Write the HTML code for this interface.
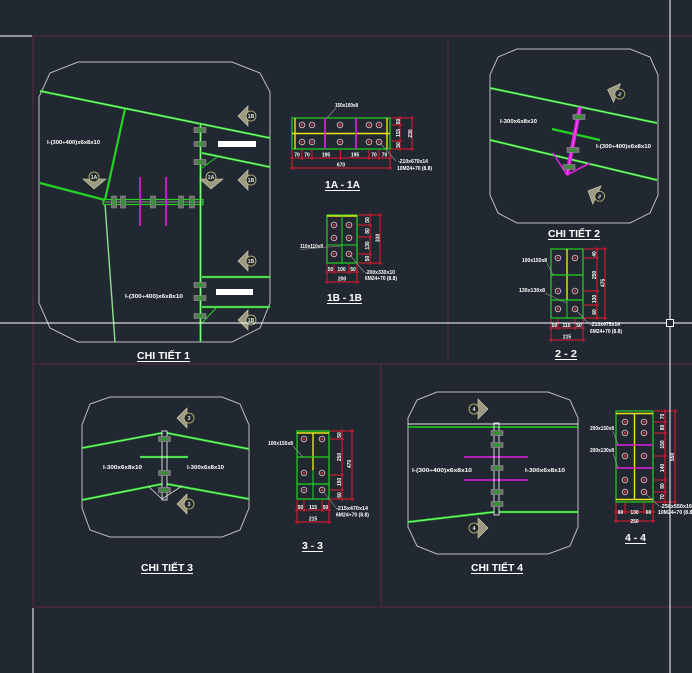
<!DOCTYPE html>
<html><head><meta charset="utf-8"><style>
html,body{margin:0;padding:0;background:#222831;}
svg{display:block;}
text{font-family:"Liberation Sans","Noto Sans CJK SC",sans-serif;}
.o{fill:none;stroke:#bdbdbd;stroke-width:1;}
.g{stroke:#22d322;stroke-width:2.2;fill:none;}
.gl{stroke:#d8ffd8;stroke-width:0.6;fill:none;}
.r{stroke:#e8182c;stroke-width:1;fill:none;}
.y{stroke:#e6e61a;stroke-width:1.4;fill:none;}
.m{stroke:#e020e0;stroke-width:1.6;fill:none;}
.f{stroke:#5c2a36;stroke-width:1;fill:none;}
.w{stroke:#ffffff;stroke-width:1;fill:none;}
.ld{stroke:#9a9a9a;stroke-width:0.6;fill:none;}
.t{fill:#fff;font-size:5.5px;font-weight:bold;}
.d{fill:#fff;font-size:5px;font-weight:bold;text-anchor:middle;}
.ti{fill:#fff;font-size:10px;font-weight:bold;}
.mk{fill:#222831;stroke:#c8c47a;stroke-width:0.8;}
.mt{fill:#9c9a84;stroke:#d8d4b0;stroke-width:0.6;}
.mx{fill:#e8e8d8;font-size:5px;font-weight:bold;text-anchor:middle;}
.bh{fill:#6a6f68;stroke:#a0a0a0;stroke-width:0.5;}
.bn{fill:#2c9a2c;}
.sb{fill:none;stroke:#e0b8c0;stroke-width:0.9;}
.sd{fill:#e03040;}
</style></head><body>
<svg width="692" height="673" viewBox="0 0 692 673" xmlns="http://www.w3.org/2000/svg">
<rect width="692" height="673" fill="#222831"/>

<!-- frame -->
<line x1="0" y1="36" x2="32" y2="36" class="w" stroke-width="1.2"/>
<line x1="33" y1="36" x2="692" y2="36" class="f"/>
<line x1="33" y1="36" x2="33" y2="607" class="f"/>
<line x1="33" y1="608" x2="33" y2="673" class="w"/>
<line x1="33" y1="364" x2="692" y2="364" class="f"/>
<line x1="33" y1="607" x2="692" y2="607" class="f"/>
<line x1="448" y1="36" x2="448" y2="364" class="f"/>
<line x1="381" y1="364" x2="381" y2="607" class="f"/>

<!-- ================= PANEL 1 ================= -->
<polygon class="o" points="78,62 232,62 260,73 270,92 270,303 260,328 232,342 78,342 50,328 39,303 39,97 50,73"/>
<line x1="40" y1="91" x2="270" y2="138" class="g"/><line x1="40" y1="91" x2="270" y2="138" class="gl"/>
<line x1="202" y1="153" x2="270" y2="167" class="g"/><line x1="202" y1="153" x2="270" y2="167" class="gl"/>
<line x1="125" y1="109" x2="105" y2="200" class="g" stroke-width="2"/>
<line x1="40" y1="183" x2="105" y2="200" class="g" stroke-width="2"/>
<line x1="105" y1="204" x2="115" y2="342" stroke="#8fe08f" stroke-width="1.4"/>
<rect x="103" y="199.5" width="100" height="5" fill="none" stroke="#22d322" stroke-width="1.2"/>
<line x1="103" y1="202" x2="203" y2="202" class="gl"/>
<line x1="200.5" y1="123" x2="200.5" y2="342" class="g" stroke-width="3"/>
<line x1="200.5" y1="123" x2="200.5" y2="342" class="gl"/>
<line x1="202" y1="277" x2="270" y2="277" class="g"/><line x1="202" y1="277" x2="270" y2="277" class="gl"/>
<line x1="202" y1="307" x2="270" y2="307" class="g"/><line x1="202" y1="307" x2="270" y2="307" class="gl"/>
<line x1="202" y1="168" x2="217" y2="157" stroke="#22d322" stroke-width="1"/>
<line x1="202" y1="323" x2="217" y2="307" stroke="#22d322" stroke-width="1"/>
<rect x="218" y="141" width="38" height="6" fill="#fff"/>
<rect x="216" y="289" width="37" height="6" fill="#fff"/>
<line x1="140" y1="177" x2="140" y2="226" class="m"/>
<line x1="166" y1="177" x2="166" y2="226" class="m"/>
<!-- bolts on plate -->
<g>
<rect x="111.5" y="196" width="5" height="12" class="bh"/><rect x="112.5" y="199" width="3" height="6" class="bn"/>
<rect x="120.5" y="196" width="5" height="12" class="bh"/><rect x="121.5" y="199" width="3" height="6" class="bn"/>
<rect x="150.5" y="196" width="5" height="12" class="bh"/><rect x="151.5" y="199" width="3" height="6" class="bn"/>
<rect x="178.5" y="196" width="5" height="12" class="bh"/><rect x="179.5" y="199" width="3" height="6" class="bn"/>
<rect x="189.5" y="196" width="5" height="12" class="bh"/><rect x="190.5" y="199" width="3" height="6" class="bn"/>
</g>
<!-- bolts on column -->
<g>
<rect x="194" y="127.5" width="12" height="5" class="bh"/><rect x="197" y="128.5" width="6" height="3" class="bn"/>
<rect x="194" y="141.5" width="12" height="5" class="bh"/><rect x="197" y="142.5" width="6" height="3" class="bn"/>
<rect x="194" y="159.5" width="12" height="5" class="bh"/><rect x="197" y="160.5" width="6" height="3" class="bn"/>
<rect x="194" y="282.5" width="12" height="5" class="bh"/><rect x="197" y="283.5" width="6" height="3" class="bn"/>
<rect x="194" y="295.5" width="12" height="5" class="bh"/><rect x="197" y="296.5" width="6" height="3" class="bn"/>
<rect x="194" y="313.5" width="12" height="5" class="bh"/><rect x="197" y="314.5" width="6" height="3" class="bn"/>
</g>
<text x="47" y="144" class="t" textLength="53" lengthAdjust="spacingAndGlyphs">I-(300÷400)x6x8x10</text>
<text x="125" y="298" class="t" textLength="58" lengthAdjust="spacingAndGlyphs">I-(300÷400)x6x8x10</text>
<!-- 1B markers -->
<g>
<polygon class="mt" points="238,116 248,106 248,126"/><circle cx="251" cy="116" r="5" class="mk"/><text x="251" y="118" class="mx">1B</text>
<polygon class="mt" points="238,180 248,170 248,190"/><circle cx="251" cy="180" r="5" class="mk"/><text x="251" y="182" class="mx">1B</text>
<polygon class="mt" points="238,261 248,251 248,271"/><circle cx="251" cy="261" r="5" class="mk"/><text x="251" y="263" class="mx">1B</text>
<polygon class="mt" points="238,320 248,310 248,330"/><circle cx="251" cy="320" r="5" class="mk"/><text x="251" y="322" class="mx">1B</text>
</g>
<!-- 1A markers -->
<g>
<polygon class="mt" points="83,179 106,179 94,189"/><circle cx="94" cy="177" r="5" class="mk"/><text x="94" y="179" class="mx">1A</text>
<polygon class="mt" points="200,179 223,179 211,189"/><circle cx="211" cy="177" r="5" class="mk"/><text x="211" y="179" class="mx">1A</text>
</g>
<text x="137" y="359" class="ti" textLength="53" lengthAdjust="spacingAndGlyphs">CHI TIẾT 1</text>
<line x1="137" y1="361.5" x2="190" y2="361.5" class="w"/>

<!-- ================= SECTION 1A-1A ================= -->
<rect x="292" y="118" width="98" height="31" fill="none" stroke="#22d322" stroke-width="1.2"/>
<line x1="292" y1="133.5" x2="390" y2="133.5" class="y"/>
<line x1="295" y1="118" x2="295" y2="149" class="y"/>
<line x1="387" y1="118" x2="387" y2="149" class="y"/>
<line x1="325" y1="118" x2="325" y2="149" class="m"/>
<line x1="356" y1="118" x2="356" y2="149" class="m"/>
<g>
<circle cx="302" cy="125" r="2.8" class="sb"/><circle cx="302" cy="125" r="1.1" class="sd"/>
<circle cx="312" cy="125" r="2.8" class="sb"/><circle cx="312" cy="125" r="1.1" class="sd"/>
<circle cx="340" cy="125" r="2.8" class="sb"/><circle cx="340" cy="125" r="1.1" class="sd"/>
<circle cx="369" cy="125" r="2.8" class="sb"/><circle cx="369" cy="125" r="1.1" class="sd"/>
<circle cx="379" cy="125" r="2.8" class="sb"/><circle cx="379" cy="125" r="1.1" class="sd"/>
<circle cx="302" cy="142" r="2.8" class="sb"/><circle cx="302" cy="142" r="1.1" class="sd"/>
<circle cx="312" cy="142" r="2.8" class="sb"/><circle cx="312" cy="142" r="1.1" class="sd"/>
<circle cx="340" cy="142" r="2.8" class="sb"/><circle cx="340" cy="142" r="1.1" class="sd"/>
<circle cx="369" cy="142" r="2.8" class="sb"/><circle cx="369" cy="142" r="1.1" class="sd"/>
<circle cx="379" cy="142" r="2.8" class="sb"/><circle cx="379" cy="142" r="1.1" class="sd"/>
</g>
<path class="r" d="M290 158H392 M292 150V170 M302 150V160 M312 150V160 M340.5 150V160 M369 150V160 M379 150V160 M390 150V170 M290 168H392"/>
<text x="297" y="156.5" class="d">70</text><text x="307" y="156.5" class="d">70</text>
<text x="326" y="156.5" class="d">195</text><text x="355" y="156.5" class="d">195</text>
<text x="374" y="156.5" class="d">70</text><text x="384.5" y="156.5" class="d">70</text>
<text x="341" y="166.5" class="d">670</text>
<path class="r" d="M391 118H414 M391 125H402 M391 141H402 M391 149H414 M400 116V151 M412 116V151"/>
<text class="d" transform="translate(398.5,121.5) rotate(-90)" y="1.5">50</text>
<text class="d" transform="translate(398.5,133) rotate(-90)" y="1.5">115</text>
<text class="d" transform="translate(398.5,145) rotate(-90)" y="1.5">50</text>
<text class="d" transform="translate(410.5,133.5) rotate(-90)" y="1.5">230</text>
<text x="335" y="107" class="t" textLength="23" lengthAdjust="spacingAndGlyphs">150x100x8</text>
<line x1="336" y1="108" x2="327" y2="118" class="ld"/>
<line x1="380" y1="143" x2="396" y2="161" class="ld"/>
<text x="398" y="163" class="t" textLength="30" lengthAdjust="spacingAndGlyphs">-210x670x14</text>
<text x="397" y="170" class="t" textLength="35" lengthAdjust="spacingAndGlyphs">10M24+70 (8.8)</text>
<text x="325" y="188" class="ti" textLength="35" lengthAdjust="spacingAndGlyphs">1A - 1A</text>
<line x1="325" y1="190.5" x2="360" y2="190.5" class="w"/>

<!-- ================= SECTION 1B-1B ================= -->
<rect x="327" y="215" width="30" height="48" fill="none" stroke="#22d322" stroke-width="1.2"/>
<line x1="327" y1="216" x2="357" y2="216" class="y" stroke-width="1"/>
<line x1="342" y1="215" x2="342" y2="263" stroke="#22d322" stroke-width="1"/>
<line x1="327" y1="245" x2="357" y2="245" stroke="#22d322" stroke-width="1"/>
<g>
<circle cx="334" cy="225" r="2.8" class="sb"/><circle cx="334" cy="225" r="1.1" class="sd"/>
<circle cx="349" cy="225" r="2.8" class="sb"/><circle cx="349" cy="225" r="1.1" class="sd"/>
<circle cx="334" cy="238" r="2.8" class="sb"/><circle cx="334" cy="238" r="1.1" class="sd"/>
<circle cx="349" cy="238" r="2.8" class="sb"/><circle cx="349" cy="238" r="1.1" class="sd"/>
<circle cx="334" cy="254" r="2.8" class="sb"/><circle cx="334" cy="254" r="1.1" class="sd"/>
<circle cx="349" cy="254" r="2.8" class="sb"/><circle cx="349" cy="254" r="1.1" class="sd"/>
</g>
<path class="r" d="M358 215H382 M358 225H372 M358 237H372 M358 254H372 M358 263H382 M370 213V265 M380 213V265"/>
<text class="d" transform="translate(367.5,220) rotate(-90)" y="1.5">50</text>
<text class="d" transform="translate(367.5,231) rotate(-90)" y="1.5">80</text>
<text class="d" transform="translate(367.5,245.5) rotate(-90)" y="1.5">130</text>
<text class="d" transform="translate(367.5,258.5) rotate(-90)" y="1.5">50</text>
<text class="d" transform="translate(378,238) rotate(-90)" y="1.5">330</text>
<path class="r" d="M325 272H359 M327 264V284 M334 264V274 M349 264V274 M357 264V284 M325 282H359"/>
<text x="330.5" y="271" class="d">50</text><text x="341.5" y="271" class="d">100</text><text x="353" y="271" class="d">50</text>
<text x="342" y="280.5" class="d">200</text>
<text x="300" y="248" class="t" textLength="23" lengthAdjust="spacingAndGlyphs">110x110x8</text>
<line x1="300" y1="249.5" x2="341" y2="246" class="ld"/>
<line x1="350" y1="255" x2="364" y2="272" class="ld"/>
<text x="365" y="274" class="t" textLength="30" lengthAdjust="spacingAndGlyphs">-200x330x10</text>
<text x="365" y="280" class="t" textLength="32" lengthAdjust="spacingAndGlyphs">6M24+70 (8.8)</text>
<text x="327" y="301" class="ti" textLength="35" lengthAdjust="spacingAndGlyphs">1B - 1B</text>
<line x1="327" y1="303.5" x2="362" y2="303.5" class="w"/>

<!-- ================= PANEL 2 ================= -->
<polygon class="o" points="517,49 630,49 650,57 658,75 658,195 650,213 630,223 517,223 498,213 490,195 490,75 498,57"/>
<line x1="490" y1="88" x2="657" y2="123" class="g"/><line x1="490" y1="88" x2="657" y2="123" class="gl"/>
<line x1="490" y1="140" x2="657" y2="180" class="g"/><line x1="490" y1="140" x2="657" y2="180" class="gl"/>
<line x1="552" y1="129" x2="600" y2="140" class="g" stroke-width="2"/>
<line x1="580" y1="107" x2="567" y2="175" stroke="#e020e0" stroke-width="4"/>
<line x1="580" y1="107" x2="567" y2="175" stroke="#f080f0" stroke-width="0.6"/>
<polyline points="553,153 567,175 590,163" class="m" stroke-width="1"/>
<g>
<rect x="573" y="114.5" width="12" height="5" class="bh"/><rect x="576" y="115.5" width="6" height="3" class="bn"/>
<rect x="567" y="147.5" width="12" height="5" class="bh"/><rect x="570" y="148.5" width="6" height="3" class="bn"/>
<rect x="563" y="164.5" width="12" height="5" class="bh"/><rect x="566" y="165.5" width="6" height="3" class="bn"/>
</g>
<text x="500" y="123" class="t" textLength="37" lengthAdjust="spacingAndGlyphs">I-300x6x8x10</text>
<text x="596" y="148" class="t" textLength="55" lengthAdjust="spacingAndGlyphs">I-(300÷400)x6x8x10</text>
<g transform="translate(617,93) rotate(20)">
<polygon class="mt" points="-10,0 0,-10 0,10"/><circle cx="3" cy="0" r="5" class="mk"/><text x="3" y="2" class="mx">2</text>
</g>
<g transform="translate(597,195) rotate(25)">
<polygon class="mt" points="-10,0 0,-10 0,10"/><circle cx="3" cy="0" r="5" class="mk"/><text x="3" y="2" class="mx">2</text>
</g>
<text x="548" y="237" class="ti" textLength="52" lengthAdjust="spacingAndGlyphs">CHI TIẾT 2</text>
<line x1="548" y1="239.5" x2="600" y2="239.5" class="w"/>

<!-- ================= SECTION 2-2 ================= -->
<rect x="551" y="249" width="32" height="69" fill="none" stroke="#22d322" stroke-width="1.2"/>
<line x1="567" y1="249" x2="567" y2="300" class="y"/>
<line x1="567" y1="300" x2="567" y2="318" stroke="#22d322" stroke-width="1"/>
<line x1="551" y1="275" x2="583" y2="275" stroke="#22d322" stroke-width="1.2"/>
<line x1="551" y1="300" x2="583" y2="300" stroke="#22d322" stroke-width="1.2"/>
<g>
<circle cx="558" cy="258" r="2.8" class="sb"/><circle cx="558" cy="258" r="1.1" class="sd"/>
<circle cx="575" cy="258" r="2.8" class="sb"/><circle cx="575" cy="258" r="1.1" class="sd"/>
<circle cx="558" cy="291" r="2.8" class="sb"/><circle cx="558" cy="291" r="1.1" class="sd"/>
<circle cx="575" cy="291" r="2.8" class="sb"/><circle cx="575" cy="291" r="1.1" class="sd"/>
<circle cx="558" cy="309" r="2.8" class="sb"/><circle cx="558" cy="309" r="1.1" class="sd"/>
<circle cx="575" cy="309" r="2.8" class="sb"/><circle cx="575" cy="309" r="1.1" class="sd"/>
</g>
<path class="r" d="M584 249H607 M584 258H599 M584 291H599 M584 305H599 M584 318H607 M597 247V320 M605 247V320"/>
<text class="d" transform="translate(594.5,254) rotate(-90)" y="1.5">40</text>
<text class="d" transform="translate(594.5,275) rotate(-90)" y="1.5">250</text>
<text class="d" transform="translate(594.5,299) rotate(-90)" y="1.5">130</text>
<text class="d" transform="translate(594.5,312) rotate(-90)" y="1.5">60</text>
<text class="d" transform="translate(603,283) rotate(-90)" y="1.5">475</text>
<path class="r" d="M549 328H585 M551 319V342 M558 319V330 M575 319V330 M583 319V342 M549 340H585"/>
<text x="554.5" y="327" class="d">50</text><text x="566.5" y="327" class="d">115</text><text x="579" y="327" class="d">50</text>
<text x="567" y="338.5" class="d">215</text>
<text x="522" y="262" class="t" textLength="25" lengthAdjust="spacingAndGlyphs">100x150x8</text>
<line x1="547" y1="263" x2="553" y2="275" class="ld"/>
<text x="519" y="292" class="t" textLength="26" lengthAdjust="spacingAndGlyphs">130x130x8</text>
<line x1="545" y1="293" x2="566" y2="303" class="ld"/>
<line x1="576" y1="310" x2="589" y2="324" class="ld"/>
<text x="590" y="326" class="t" textLength="30" lengthAdjust="spacingAndGlyphs">-210x475x14</text>
<text x="590" y="333" class="t" textLength="32" lengthAdjust="spacingAndGlyphs">6M24+70 (8.8)</text>
<text x="555" y="357" class="ti" textLength="22" lengthAdjust="spacingAndGlyphs">2 - 2</text>
<line x1="555" y1="359.5" x2="577" y2="359.5" class="w"/>

<!-- ================= PANEL 3 ================= -->
<polygon class="o" points="110,397 222,397 240,404 249,425 249,508 240,530 222,537 110,537 90,530 82,508 82,425 90,404"/>
<line x1="82" y1="448" x2="162" y2="433" class="g"/><line x1="82" y1="448" x2="162" y2="433" class="gl"/>
<line x1="167" y1="433" x2="249" y2="449" class="g"/><line x1="167" y1="433" x2="249" y2="449" class="gl"/>
<line x1="82" y1="500" x2="162" y2="484" class="g"/><line x1="82" y1="500" x2="162" y2="484" class="gl"/>
<line x1="167" y1="484" x2="249" y2="499" class="g"/><line x1="167" y1="484" x2="249" y2="499" class="gl"/>
<line x1="140" y1="457" x2="188" y2="457" class="g" stroke-width="2"/><line x1="140" y1="457" x2="188" y2="457" class="gl"/>
<rect x="162" y="431" width="5" height="69" fill="none" stroke="#fff" stroke-width="0.8"/>
<polyline points="148,486 162,499 182,486" fill="none" stroke="#ddd" stroke-width="0.8"/>
<g>
<rect x="158.5" y="436.5" width="12" height="5" class="bh"/><rect x="161.5" y="437.5" width="6" height="3" class="bn"/>
<rect x="158.5" y="470.5" width="12" height="5" class="bh"/><rect x="161.5" y="471.5" width="6" height="3" class="bn"/>
<rect x="158.5" y="487.5" width="12" height="5" class="bh"/><rect x="161.5" y="488.5" width="6" height="3" class="bn"/>
</g>
<text x="103" y="469" class="t" textLength="39" lengthAdjust="spacingAndGlyphs">I-300x6x8x10</text>
<text x="187" y="469" class="t" textLength="37" lengthAdjust="spacingAndGlyphs">I-300x6x8x10</text>
<g>
<polygon class="mt" points="177,418 187,408 187,428"/><circle cx="189" cy="418" r="5" class="mk"/><text x="189" y="420" class="mx">3</text>
<polygon class="mt" points="177,504 187,494 187,514"/><circle cx="189" cy="504" r="5" class="mk"/><text x="189" y="506" class="mx">3</text>
</g>
<text x="141" y="571" class="ti" textLength="52" lengthAdjust="spacingAndGlyphs">CHI TIẾT 3</text>
<line x1="141" y1="573.5" x2="193" y2="573.5" class="w"/>

<!-- ================= SECTION 3-3 ================= -->
<rect x="297" y="431" width="32" height="68" fill="none" stroke="#22d322" stroke-width="1.2"/>
<line x1="297" y1="433" x2="329" y2="433" class="y"/>
<line x1="313" y1="433" x2="313" y2="470" class="y"/>
<line x1="313" y1="470" x2="313" y2="499" stroke="#22d322" stroke-width="1"/>
<line x1="297" y1="457" x2="329" y2="457" stroke="#22d322" stroke-width="1.2"/>
<line x1="297" y1="484" x2="329" y2="484" stroke="#22d322" stroke-width="1.2"/>
<g>
<circle cx="304" cy="439" r="2.8" class="sb"/><circle cx="304" cy="439" r="1.1" class="sd"/>
<circle cx="322" cy="439" r="2.8" class="sb"/><circle cx="322" cy="439" r="1.1" class="sd"/>
<circle cx="304" cy="473" r="2.8" class="sb"/><circle cx="304" cy="473" r="1.1" class="sd"/>
<circle cx="322" cy="473" r="2.8" class="sb"/><circle cx="322" cy="473" r="1.1" class="sd"/>
<circle cx="304" cy="490" r="2.8" class="sb"/><circle cx="304" cy="490" r="1.1" class="sd"/>
<circle cx="322" cy="490" r="2.8" class="sb"/><circle cx="322" cy="490" r="1.1" class="sd"/>
</g>
<path class="r" d="M330 431H354 M330 439H344 M330 475H344 M330 490H344 M330 499H354 M342 429V501 M352 429V501"/>
<text class="d" transform="translate(339.5,435) rotate(-90)" y="1.5">50</text>
<text class="d" transform="translate(339.5,457) rotate(-90)" y="1.5">250</text>
<text class="d" transform="translate(339.5,482) rotate(-90)" y="1.5">150</text>
<text class="d" transform="translate(339.5,495) rotate(-90)" y="1.5">60</text>
<text class="d" transform="translate(349.5,464) rotate(-90)" y="1.5">470</text>
<path class="r" d="M295 510H331 M297 500V524 M304 500V512 M322 500V512 M329 500V524 M295 522H331"/>
<text x="300.5" y="509" class="d">50</text><text x="313" y="509" class="d">115</text><text x="325.5" y="509" class="d">50</text>
<text x="313" y="520.5" class="d">215</text>
<text x="268" y="445" class="t" textLength="25" lengthAdjust="spacingAndGlyphs">100x150x8</text>
<line x1="293" y1="446" x2="303" y2="457" class="ld"/>
<line x1="323" y1="491" x2="336" y2="508" class="ld"/>
<text x="336" y="510" class="t" textLength="32" lengthAdjust="spacingAndGlyphs">-215x470x14</text>
<text x="336" y="516.5" class="t" textLength="33" lengthAdjust="spacingAndGlyphs">6M24+70 (8.8)</text>
<text x="302" y="549" class="ti" textLength="21" lengthAdjust="spacingAndGlyphs">3 - 3</text>
<line x1="302" y1="551.5" x2="323" y2="551.5" class="w"/>

<!-- ================= PANEL 4 ================= -->
<polygon class="o" points="437,392 548,392 570,400 578,418 578,527 570,546 548,554 437,554 417,546 408,527 408,418 417,400"/>
<line x1="408" y1="424" x2="578" y2="424" stroke="#e8e8e8" stroke-width="0.9"/>
<line x1="408" y1="427" x2="578" y2="427" stroke="#22d322" stroke-width="1.6"/>
<line x1="408" y1="522" x2="494" y2="512" class="g" stroke-width="1.8"/><line x1="408" y1="522" x2="494" y2="512" class="gl"/>
<line x1="499" y1="512" x2="578" y2="512" class="g" stroke-width="1.8"/><line x1="499" y1="512" x2="578" y2="512" class="gl"/>
<line x1="464" y1="457" x2="528" y2="457" class="m"/>
<line x1="464" y1="480" x2="528" y2="480" class="m"/>
<rect x="494" y="423" width="5" height="92" fill="none" stroke="#fff" stroke-width="0.8"/>
<g>
<rect x="491" y="430.5" width="12" height="5" class="bh"/><rect x="494" y="431.5" width="6" height="3" class="bn"/>
<rect x="491" y="442.5" width="12" height="5" class="bh"/><rect x="494" y="443.5" width="6" height="3" class="bn"/>
<rect x="491" y="465.5" width="12" height="5" class="bh"/><rect x="494" y="466.5" width="6" height="3" class="bn"/>
<rect x="491" y="489.5" width="12" height="5" class="bh"/><rect x="494" y="490.5" width="6" height="3" class="bn"/>
<rect x="491" y="501.5" width="12" height="5" class="bh"/><rect x="494" y="502.5" width="6" height="3" class="bn"/>
</g>
<text x="412" y="472" class="t" textLength="60" lengthAdjust="spacingAndGlyphs">I-(300÷400)x6x8x10</text>
<text x="525" y="472" class="t" textLength="40" lengthAdjust="spacingAndGlyphs">I-300x6x8x10</text>
<g>
<polygon class="mt" points="478,399 478,419 488,409"/><circle cx="474" cy="409" r="5" class="mk"/><text x="474" y="411" class="mx">4</text>
<polygon class="mt" points="478,518 478,538 488,528"/><circle cx="474" cy="528" r="5" class="mk"/><text x="474" y="530" class="mx">4</text>
</g>
<text x="471" y="571" class="ti" textLength="52" lengthAdjust="spacingAndGlyphs">CHI TIẾT 4</text>
<line x1="471" y1="573.5" x2="523" y2="573.5" class="w"/>

<!-- ================= SECTION 4-4 ================= -->
<rect x="616" y="411" width="37" height="91" fill="none" stroke="#22d322" stroke-width="1.2"/>
<line x1="616" y1="413.5" x2="653" y2="413.5" class="y"/>
<line x1="616" y1="499.5" x2="653" y2="499.5" class="y"/>
<line x1="634.5" y1="413" x2="634.5" y2="500" class="y"/>
<line x1="616" y1="445" x2="653" y2="445" class="m" stroke-width="1.8"/>
<line x1="616" y1="468" x2="653" y2="468" class="m" stroke-width="1.8"/>
<g>
<circle cx="625" cy="422" r="2.8" class="sb"/><circle cx="625" cy="422" r="1.1" class="sd"/>
<circle cx="644" cy="422" r="2.8" class="sb"/><circle cx="644" cy="422" r="1.1" class="sd"/>
<circle cx="625" cy="433" r="2.8" class="sb"/><circle cx="625" cy="433" r="1.1" class="sd"/>
<circle cx="644" cy="433" r="2.8" class="sb"/><circle cx="644" cy="433" r="1.1" class="sd"/>
<circle cx="625" cy="456" r="2.8" class="sb"/><circle cx="625" cy="456" r="1.1" class="sd"/>
<circle cx="644" cy="456" r="2.8" class="sb"/><circle cx="644" cy="456" r="1.1" class="sd"/>
<circle cx="625" cy="480" r="2.8" class="sb"/><circle cx="625" cy="480" r="1.1" class="sd"/>
<circle cx="644" cy="480" r="2.8" class="sb"/><circle cx="644" cy="480" r="1.1" class="sd"/>
<circle cx="625" cy="492" r="2.8" class="sb"/><circle cx="625" cy="492" r="1.1" class="sd"/>
<circle cx="644" cy="492" r="2.8" class="sb"/><circle cx="644" cy="492" r="1.1" class="sd"/>
</g>
<path class="r" d="M654 411H677 M654 422H667 M654 433H667 M654 456H667 M654 480H667 M654 492H667 M654 502H677 M665 409V504 M675 409V504"/>
<text class="d" transform="translate(662.5,416.5) rotate(-90)" y="1.5">70</text>
<text class="d" transform="translate(662.5,427.5) rotate(-90)" y="1.5">80</text>
<text class="d" transform="translate(662.5,444.5) rotate(-90)" y="1.5">150</text>
<text class="d" transform="translate(662.5,468) rotate(-90)" y="1.5">140</text>
<text class="d" transform="translate(662.5,486) rotate(-90)" y="1.5">80</text>
<text class="d" transform="translate(662.5,497) rotate(-90)" y="1.5">70</text>
<text class="d" transform="translate(672.5,457) rotate(-90)" y="1.5">550</text>
<path class="r" d="M614 512H655 M616 503V523 M625 503V514 M644 503V514 M653 503V523 M614 521H655"/>
<text x="620.5" y="514" class="d">60</text><text x="634.5" y="514" class="d">130</text><text x="648.5" y="514" class="d">60</text>
<text x="634.5" y="523" class="d">250</text>
<text x="590" y="430" class="t" textLength="24" lengthAdjust="spacingAndGlyphs">200x150x8</text>
<line x1="613" y1="431" x2="618" y2="445" class="ld"/>
<text x="590" y="452" class="t" textLength="24" lengthAdjust="spacingAndGlyphs">200x130x8</text>
<line x1="613" y1="453" x2="618" y2="468" class="ld"/>
<line x1="645" y1="493" x2="659" y2="506" class="ld"/>
<text x="660" y="508" class="t" textLength="32" lengthAdjust="spacingAndGlyphs">-250x550x16</text>
<text x="658" y="514" class="t" textLength="36" lengthAdjust="spacingAndGlyphs">10M24+70 (8.8)</text>
<text x="625" y="541" class="ti" textLength="21" lengthAdjust="spacingAndGlyphs">4 - 4</text>
<line x1="625" y1="543.5" x2="646" y2="543.5" class="w"/>

<!-- crosshair -->
<line x1="670" y1="0" x2="670" y2="673" class="w"/>
<line x1="0" y1="323" x2="692" y2="323" class="w"/>
<rect x="666.5" y="319.5" width="7" height="7" fill="#222831" stroke="#fff" stroke-width="1"/>
</svg>
</body></html>
